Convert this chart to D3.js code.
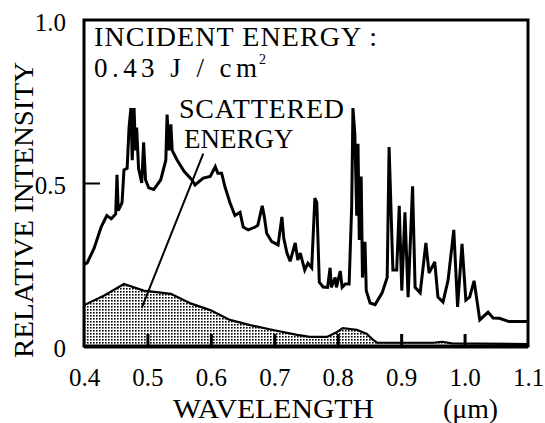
<!DOCTYPE html>
<html>
<head>
<meta charset="utf-8">
<script src="https://cdn.jsdelivr.net/npm/d3@7"></script>
<style>
    body { margin: 0; background: #fff; }
    svg text { font-family: 'Liberation Serif', 'DejaVu Serif', serif; fill: #000; }
</style>
</head>
<body>
<div id="chart"></div>
<script>
// Incident spectrum (wavelength in um, relative intensity)
const incidentWavelength = [
    0.400, 0.405, 0.416, 0.427, 0.436, 0.443, 0.450, 0.452, 0.454, 0.460,
    0.463, 0.468, 0.471, 0.474, 0.476, 0.479, 0.481, 0.483, 0.486, 0.491,
    0.494, 0.497, 0.502, 0.510, 0.521, 0.529, 0.531, 0.534, 0.537, 0.539,
    0.547, 0.558, 0.570, 0.575, 0.588, 0.599, 0.607, 0.611, 0.617, 0.622,
    0.630, 0.638, 0.646, 0.651, 0.659, 0.670, 0.674, 0.681, 0.684, 0.688,
    0.696, 0.706, 0.712, 0.715, 0.720, 0.725, 0.733, 0.737, 0.741, 0.748,
    0.753, 0.759, 0.764, 0.767, 0.771, 0.777, 0.784, 0.788, 0.790, 0.796,
    0.798, 0.804, 0.807, 0.812, 0.818, 0.822, 0.824, 0.827, 0.830, 0.832,
    0.834, 0.837, 0.839, 0.843, 0.845, 0.851, 0.859, 0.870, 0.878, 0.881,
    0.887, 0.893, 0.897, 0.901, 0.906, 0.911, 0.918, 0.922, 0.930, 0.939,
    0.944, 0.953, 0.958, 0.966, 0.974, 0.983, 0.989, 0.996, 1.002, 1.008,
    1.015, 1.024, 1.037, 1.045, 1.055, 1.070, 1.100
];
const incidentIntensity = [
    0.250, 0.255, 0.300, 0.365, 0.400, 0.390, 0.405, 0.525, 0.415, 0.440,
    0.540, 0.545, 0.670, 0.730, 0.570, 0.730, 0.600, 0.670, 0.545, 0.500,
    0.625, 0.510, 0.485, 0.480, 0.510, 0.570, 0.710, 0.600, 0.680, 0.600,
    0.570, 0.535, 0.510, 0.494, 0.515, 0.520, 0.550, 0.530, 0.530, 0.490,
    0.440, 0.400, 0.410, 0.365, 0.356, 0.365, 0.370, 0.430, 0.400, 0.346,
    0.320, 0.310, 0.396, 0.330, 0.285, 0.260, 0.316, 0.264, 0.285, 0.233,
    0.254, 0.240, 0.454, 0.440, 0.196, 0.181, 0.180, 0.240, 0.180, 0.210,
    0.180, 0.230, 0.180, 0.190, 0.190, 0.426, 0.730, 0.650, 0.400, 0.620,
    0.325, 0.520, 0.210, 0.320, 0.170, 0.132, 0.127, 0.163, 0.210, 0.610,
    0.233, 0.233, 0.430, 0.170, 0.410, 0.150, 0.490, 0.180, 0.163, 0.316,
    0.224, 0.258, 0.150, 0.135, 0.202, 0.356, 0.120, 0.313, 0.141, 0.150,
    0.200, 0.080, 0.104, 0.086, 0.085, 0.075, 0.075
];

// Scattered energy spectrum
const scatterWavelength = [
    0.400, 0.405, 0.432, 0.463, 0.494, 0.537, 0.569, 0.599, 0.630, 0.662,
    0.698, 0.736, 0.756, 0.783, 0.799, 0.808, 0.830, 0.846, 0.855, 0.862,
    0.950, 0.965, 0.980, 1.100
];
const scatterIntensity = [
    0.125, 0.130, 0.155, 0.190, 0.170, 0.160, 0.130, 0.110, 0.080, 0.064,
    0.049, 0.034, 0.028, 0.028, 0.043, 0.055, 0.050, 0.037, 0.020, 0.010,
    0.010, 0.013, 0.008, 0.006
];

// Tick values
const xTicks = [0.4, 0.5, 0.6, 0.7, 0.8, 0.9, 1.0, 1.1];
const xTickLabels = ['0.4', '0.5', '0.6', '0.7', '0.8', '0.9', '1.0', '1.1'];
const yTicks = [0, 0.5, 1.0];
const yTickLabels = ['0', '0.5', '1.0'];

// Annotation pointer (from the scattered area up to the label)
const pointerWavelength = [0.491, 0.588];
const pointerIntensity = [0.117, 0.59];

const totalWidth = 545;
const totalHeight = 423;
const plotLeft = 84, plotRight = 528, plotTop = 20, plotBottom = 346;
const serif = "'Liberation Serif', 'DejaVu Serif', serif";

const svg = d3
    .select('#chart')
    .append('svg')
    .attr('width', totalWidth)
    .attr('height', totalHeight);

const x = d3.scaleLinear().domain([0.4, 1.1]).range([plotLeft, plotRight]);
const y = d3.scaleLinear().domain([0, 1]).range([plotBottom, plotTop]);

// Stipple pattern for the scattered energy area
const pattern = svg
    .append('defs')
    .append('pattern')
    .attr('id', 'stipple')
    .attr('patternUnits', 'userSpaceOnUse')
    .attr('width', 3)
    .attr('height', 3);
pattern.append('rect').attr('x', 0).attr('y', 0).attr('width', 1.6).attr('height', 1.6).attr('fill', '#000');

const scatterData = scatterWavelength.map((w, i) => ({ w: w, v: scatterIntensity[i] }));
const incidentData = incidentWavelength.map((w, i) => ({ w: w, v: incidentIntensity[i] }));

// Scattered energy filled area
svg.append('path')
    .datum(scatterData)
    .attr('fill', 'url(#stipple)')
    .attr('d', d3.area().x(d => x(d.w)).y0(y(0)).y1(d => y(d.v)));

svg.append('path')
    .datum(scatterData)
    .attr('fill', 'none')
    .attr('stroke', '#000')
    .attr('stroke-width', 2.2)
    .attr('d', d3.line().x(d => x(d.w)).y(d => y(d.v)));

// Incident spectrum line
svg.append('path')
    .datum(incidentData)
    .attr('fill', 'none')
    .attr('stroke', '#000')
    .attr('stroke-width', 3)
    .attr('stroke-linejoin', 'miter')
    .attr('stroke-miterlimit', 3)
    .attr('d', d3.line().x(d => x(d.w)).y(d => y(d.v)));

// Pointer line
svg.append('line')
    .attr('x1', x(pointerWavelength[0]))
    .attr('y1', y(pointerIntensity[0]))
    .attr('x2', x(pointerWavelength[1]))
    .attr('y2', y(pointerIntensity[1]))
    .attr('stroke', '#000')
    .attr('stroke-width', 2);

// Inward ticks on the bottom axis
const xTickGroup = svg.append('g')
    .attr('transform', `translate(0, ${plotBottom})`)
    .call(d3.axisTop(x).tickValues(xTicks.slice(1, -1)).tickSizeInner(12).tickSizeOuter(0).tickFormat(''));
xTickGroup.select('.domain').remove();
xTickGroup.selectAll('line').attr('stroke', '#000').attr('stroke-width', 3);

// Inward tick on the left axis at 0.5
const yTickGroup = svg.append('g')
    .attr('transform', `translate(${plotLeft}, 0)`)
    .call(d3.axisRight(y).tickValues([0.5]).tickSizeInner(16).tickSizeOuter(0).tickFormat(''));
yTickGroup.select('.domain').remove();
yTickGroup.selectAll('line').attr('stroke', '#000').attr('stroke-width', 2);

// Frame
svg.append('rect')
    .attr('x', plotLeft)
    .attr('y', plotTop)
    .attr('width', plotRight - plotLeft)
    .attr('height', plotBottom - plotTop)
    .attr('fill', 'none')
    .attr('stroke', '#000')
    .attr('stroke-width', 3);
svg.append('line')
    .attr('x1', plotLeft).attr('x2', plotRight)
    .attr('y1', plotBottom + 1).attr('y2', plotBottom + 1)
    .attr('stroke', '#000').attr('stroke-width', 3);

// Tick labels on the x-axis
const xAxisGroup = svg.append('g')
    .attr('transform', `translate(0, ${plotBottom})`)
    .call(d3.axisBottom(x).tickValues(xTicks).tickSize(0).tickPadding(22)
        .tickFormat((d, i) => xTickLabels[i]));
xAxisGroup.attr('font-family', serif).attr('font-size', 25);
xAxisGroup.select('.domain').remove();
xAxisGroup.selectAll('text')
    .attr('fill', '#000')
    .style('font-family', serif)
    .style('font-size', '25px');

// Tick labels on the y-axis
const yAxisGroup = svg.append('g')
    .attr('transform', `translate(${plotLeft}, 0)`)
    .call(d3.axisLeft(y).tickValues(yTicks).tickSize(0).tickPadding(18)
        .tickFormat((d, i) => yTickLabels[i]));
yAxisGroup.attr('font-family', serif).attr('font-size', 25);
yAxisGroup.select('.domain').remove();
yAxisGroup.selectAll('text')
    .attr('fill', '#000')
    .attr('dy', '0.42em')
    .style('font-family', serif)
    .style('font-size', '25px');

// Axis titles
svg.append('text')
    .attr('x', 173).attr('y', 418)
    .attr('textLength', 201).attr('lengthAdjust', 'spacingAndGlyphs')
    .style('font-size', '28px')
    .text('WAVELENGTH');
svg.append('text')
    .attr('x', 443).attr('y', 418)
    .attr('textLength', 55).attr('lengthAdjust', 'spacingAndGlyphs')
    .style('font-size', '28px')
    .text('(μm)');
svg.append('text')
    .attr('transform', 'translate(33, 210) rotate(-90)')
    .attr('text-anchor', 'middle')
    .attr('textLength', 296).attr('lengthAdjust', 'spacingAndGlyphs')
    .style('font-size', '28px')
    .text('RELATIVE INTENSITY');

// Annotations inside the frame
svg.append('text')
    .attr('x', 94).attr('y', 46)
    .attr('textLength', 283).attr('lengthAdjust', 'spacing')
    .style('font-size', '28px')
    .text('INCIDENT  ENERGY :');
svg.append('text')
    .attr('x', 94).attr('y', 77)
    .attr('textLength', 163).attr('lengthAdjust', 'spacing')
    .style('font-size', '27px')
    .text('0.43  J / cm');
svg.append('text')
    .attr('x', 259).attr('y', 64)
    .style('font-size', '14px')
    .text('2');
svg.append('text')
    .attr('x', 179).attr('y', 118)
    .attr('textLength', 165).attr('lengthAdjust', 'spacing')
    .style('font-size', '28px')
    .text('SCATTERED');
svg.append('text')
    .attr('x', 184).attr('y', 148)
    .style('font-size', '27px')
    .text('ENERGY');
</script>
</body>
</html>
